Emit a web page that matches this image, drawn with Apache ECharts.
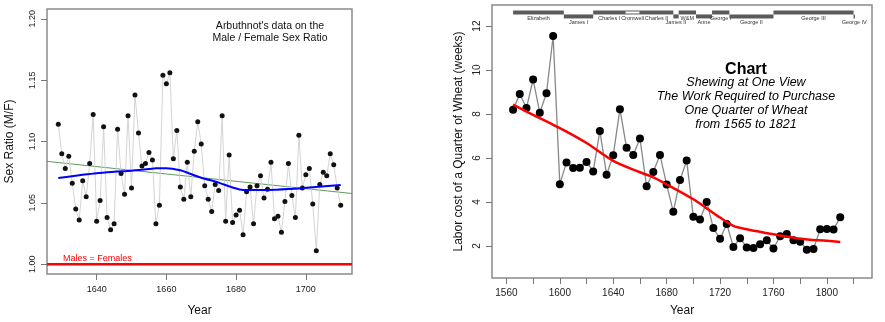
<!DOCTYPE html>
<html><head><meta charset="utf-8">
<script src="https://cdn.jsdelivr.net/npm/echarts@6/dist/echarts.min.js"></script>
<style>html,body{margin:0;padding:0;background:#fff}#c{width:885px;height:322px}</style>
</head><body><div id="c"></div>
<script>
// ---------- Left panel: Arbuthnot sex ratio ----------
const arbYears = [1629,1630,1631,1632,1633,1634,1635,1636,1637,1638,1639,1640,1641,1642,1643,1644,1645,1646,1647,1648,1649,1650,1651,1652,1653,1654,1655,1656,1657,1658,1659,1660,1661,1662,1663,1664,1665,1666,1667,1668,1669,1670,1671,1672,1673,1674,1675,1676,1677,1678,1679,1680,1681,1682,1683,1684,1685,1686,1687,1688,1689,1690,1691,1692,1693,1694,1695,1696,1697,1698,1699,1700,1701,1702,1703,1704,1705,1706,1707,1708,1709,1710];
const arbRatio = [1.114,1.090,1.078,1.088,1.066,1.045,1.036,1.068,1.055,1.082,1.122,1.035,1.052,1.112,1.038,1.028,1.033,1.110,1.074,1.057,1.121,1.062,1.138,1.107,1.080,1.082,1.091,1.085,1.033,1.048,1.154,1.147,1.156,1.086,1.109,1.063,1.053,1.083,1.055,1.092,1.116,1.098,1.064,1.053,1.043,1.065,1.060,1.121,1.035,1.089,1.034,1.040,1.044,1.024,1.059,1.063,1.033,1.064,1.072,1.054,1.061,1.083,1.037,1.039,1.026,1.051,1.082,1.056,1.038,1.105,1.062,1.073,1.078,1.049,1.011,1.065,1.075,1.072,1.090,1.081,1.062,1.048];
const loessYears = [1629,1635,1640,1645,1650,1655,1657,1660,1664,1667,1670,1675,1679,1682,1689,1695,1702,1710];
const loessRatio = [1.0703,1.0725,1.0742,1.0753,1.0762,1.0775,1.0782,1.0782,1.0765,1.0735,1.0705,1.0665,1.0625,1.0605,1.0605,1.0612,1.0628,1.0645];
const lmYears = [1625.76,1713.24];
const lmRatio = [1.0838,1.0576];
const equalYears = [1625.76,1713.24];
const equalRatio = [1.0,1.0];
const leftXTicks = [1640,1660,1680,1700];
const leftYTicks = [1.00,1.05,1.10,1.15,1.20];

// ---------- Right panel: Playfair wheat ----------
const wheatYears = [1565,1570,1575,1580,1585,1590,1595,1600,1605,1610,1615,1620,1625,1630,1635,1640,1645,1650,1655,1660,1665,1670,1675,1680,1685,1690,1695,1700,1705,1710,1715,1720,1725,1730,1735,1740,1745,1750,1755,1760,1765,1770,1775,1780,1785,1790,1795,1800,1805,1810];
const laborWeeks = [8.20,8.91,8.27,9.57,8.06,8.95,11.55,4.81,5.80,5.54,5.56,5.82,5.39,7.23,5.24,6.12,8.22,6.46,6.14,6.89,4.71,5.36,6.14,4.79,3.55,5.00,5.88,3.33,3.20,4.00,2.81,2.32,3.00,1.95,2.35,1.93,1.90,2.07,2.26,1.88,2.44,2.54,2.26,2.19,1.83,1.86,2.76,2.77,2.75,3.30];
const smoothYears = [1565,1580,1590,1600,1620,1640,1660,1668,1680,1700,1720,1730,1740,1760,1780,1800,1810];
const smoothWeeks = [8.43,7.96,7.67,7.36,6.68,5.87,5.35,5.17,4.80,4.12,3.29,2.91,2.76,2.53,2.33,2.23,2.18];
const monarchNames = ["Elizabeth","James I","Charles I","Cromwell","Charles II","James II","W&M","Anne","George I","George II","George III","George IV"];
const monarchStart = [1565,1603,1625,1649,1660,1685,1689,1702,1714,1727,1760,1820];
const monarchEnd   = [1603,1625,1649,1660,1685,1689,1702,1714,1727,1760,1820,1821];
const commonwealth = [0,0,0,1,0,0,0,0,0,0,0,0];
const rightXLabels = [1560,1600,1640,1680,1720,1760,1800];
const rightXTicks = [1560,1580,1600,1620,1640,1660,1680,1700,1720,1740,1760,1780,1800,1820];
const rightYTicks = [2,4,6,8,10,12];

const FONT = 'Liberation Sans, Arial, sans-serif';
const zip = (a,b) => a.map((v,i)=>[v,b[i]]);
const HIGH = 12.62, LOW = 12.44;
const monarchData = monarchNames.map((n,i)=>{
  const lvl = (!commonwealth[i] && ((i+1)%2===0)) ? LOW : HIGH;
  return [monarchStart[i], monarchEnd[i], lvl, commonwealth[i], n];
});

const chart = echarts.init(document.getElementById('c'), null, {renderer:'canvas'});
const plain = v => String(Math.round(v));
const axisCommon = {
  axisLine:{show:false},
  splitLine:{show:false},
  axisTick:{show:true, inside:false, length:6, lineStyle:{color:'#777', width:1}},
};
chart.setOption({
  animation:false,
  backgroundColor:'#fff',
  grid:[
    {left:47, top:9, width:305, height:268, show:true, borderColor:'#8a8a8a', borderWidth:1.5, backgroundColor:'transparent'},
    {left:492, top:5, width:380, height:273, show:true, borderColor:'#8a8a8a', borderWidth:1.5, backgroundColor:'transparent'}
  ],
  xAxis:[
    Object.assign({}, axisCommon, {type:'value', gridIndex:0, min:1625.76, max:1713.24,
      name:'Year', nameLocation:'middle', nameGap:31, nameTextStyle:{fontFamily:FONT, fontSize:12, color:'#111'},
      axisTick:Object.assign({}, axisCommon.axisTick, {customValues:leftXTicks}),
      axisLabel:{customValues:leftXTicks, fontFamily:FONT, fontSize:9, color:'#222', margin:11, formatter:plain}}),
    Object.assign({}, axisCommon, {type:'value', gridIndex:1, min:1549.2, max:1833.8,
      name:'Year', nameLocation:'middle', nameGap:27, nameTextStyle:{fontFamily:FONT, fontSize:12, color:'#111'},
      axisTick:Object.assign({}, axisCommon.axisTick, {customValues:rightXTicks}),
      axisLabel:{customValues:rightXLabels, fontFamily:FONT, fontSize:10, color:'#222', margin:10, formatter:plain}})
  ],
  yAxis:[
    Object.assign({}, axisCommon, {type:'value', gridIndex:0, min:0.992, max:1.208,
      name:'Sex Ratio (M/F)', nameLocation:'middle', nameGap:31, nameRotate:90, nameTextStyle:{fontFamily:FONT, fontSize:12, color:'#111'},
      axisTick:Object.assign({}, axisCommon.axisTick, {customValues:leftYTicks}),
      axisLabel:{customValues:leftYTicks, rotate:90, fontFamily:FONT, fontSize:9, color:'#222', margin:10, formatter:v=>v.toFixed(2)}}),
    Object.assign({}, axisCommon, {type:'value', gridIndex:1, min:0.54, max:12.96,
      name:'Labor cost of a Quarter of Wheat (weeks)', nameLocation:'middle', nameGap:27, nameRotate:90, nameTextStyle:{fontFamily:FONT, fontSize:12, color:'#111'},
      axisTick:Object.assign({}, axisCommon.axisTick, {customValues:rightYTicks}),
      axisLabel:{customValues:rightYTicks, rotate:90, fontFamily:FONT, fontSize:10, color:'#222', margin:10, formatter:plain}})
  ],
  series:[
    {type:'line', xAxisIndex:0, yAxisIndex:0, data:zip(equalYears,equalRatio), showSymbol:false, lineStyle:{color:'#ff0000', width:2.5}, z:2},
    {type:'line', xAxisIndex:0, yAxisIndex:0, data:zip(lmYears,lmRatio), showSymbol:false, lineStyle:{color:'#5f9a5f', width:1}, z:2},
    {type:'line', xAxisIndex:0, yAxisIndex:0, data:zip(arbYears,arbRatio), symbol:'circle', symbolSize:5,
      itemStyle:{color:'#111'}, lineStyle:{color:'#d4d4d4', width:1}, z:3},
    {type:'line', xAxisIndex:0, yAxisIndex:0, data:zip(loessYears,loessRatio), showSymbol:false, smooth:0.3, lineStyle:{color:'#0000ff', width:2}, z:4},

    {type:'line', xAxisIndex:1, yAxisIndex:1, data:zip(wheatYears,laborWeeks), symbol:'circle', symbolSize:8,
      itemStyle:{color:'#000'}, lineStyle:{color:'#888', width:1.3}, z:3},
    {type:'line', xAxisIndex:1, yAxisIndex:1, data:zip(smoothYears,smoothWeeks), showSymbol:false, smooth:0.3, lineStyle:{color:'#ff0000', width:2.5}, z:4},
    {type:'custom', xAxisIndex:1, yAxisIndex:1, data:monarchData, clip:false, z:5,
      renderItem:(params, api)=>{
        const d = monarchData[params.dataIndex];
        const p1 = api.coord([d[0], d[2]]), p2 = api.coord([d[1], d[2]]);
        const w = Math.max(p2[0]-p1[0], 1.2);
        const ch = [{type:'rect', shape:{x:p1[0], y:p1[1]-2, width:w, height:4}, style:{fill:'#5a5a5a'}}];
        if (d[3]) ch.push({type:'rect', shape:{x:p1[0]+0.5, y:p1[1]-1, width:w-1, height:2}, style:{fill:'#fff'}});
        ch.push({type:'text', style:{text:d[4], x:(p1[0]+p2[0])/2, y:p1[1]+6, align:'center', verticalAlign:'middle', font:'5.5px '+FONT, fill:'#333'}});
        return {type:'group', children:ch};
      }}
  ],
  graphic:[
    {type:'text', style:{text:"Arbuthnot's data on the\nMale / Female Sex Ratio", x:270, y:20, align:'center', font:'10.5px '+FONT, fill:'#111', lineHeight:12}},
    {type:'text', style:{text:'Males = Females', x:63, y:259, verticalAlign:'middle', font:'9px '+FONT, fill:'#ff0000'}},
    {type:'text', style:{text:'Chart', x:746, y:70, align:'center', verticalAlign:'middle', font:'bold 16px '+FONT, fill:'#000'}},
    {type:'text', style:{text:'Shewing at One View\nThe Work Required to Purchase\nOne Quarter of Wheat\nfrom 1565 to 1821', x:746, y:76, align:'center', font:'italic 12.5px '+FONT, fill:'#000', lineHeight:14}}
  ]
});
</script></body></html>
